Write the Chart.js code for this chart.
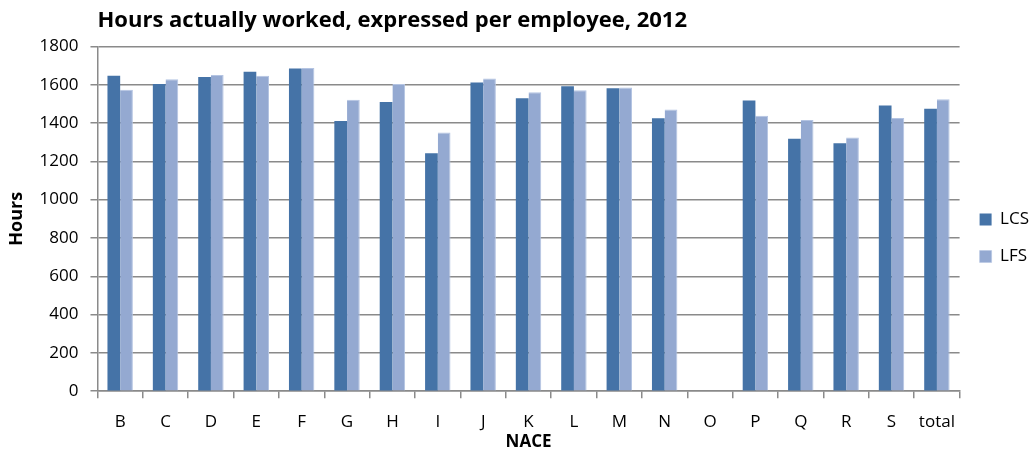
<!DOCTYPE html>
<html>
<head>
<meta charset="utf-8">
<script src="https://cdn.jsdelivr.net/npm/chart.js@4/dist/chart.umd.min.js"></script>
<style>
  html, body { margin: 0; padding: 0; background: #fff; }
  #wrap { width: 1031px; height: 452px; }
</style>
</head>
<body>
<div id="wrap"><canvas id="hoursChart"></canvas></div>
<script>
// NACE sections, hours per employee in 2012
const nace = ['B', 'C', 'D', 'E', 'F', 'G', 'H', 'I', 'J', 'K', 'L', 'M', 'N', 'O', 'P', 'Q', 'R', 'S', 'total'];
const lcs = [1647, 1604, 1640, 1668, 1685, 1411, 1510, 1242, 1612, 1529, 1592, 1581, 1425, null, 1517, 1318, 1294, 1491, 1475];
const lfs = [1574, 1628, 1651, 1647, 1687, 1522, 1604, 1350, 1632, 1560, 1571, 1585, 1471, null, 1438, 1416, 1324, 1426, 1524];
const yTicks = [0, 200, 400, 600, 800, 1000, 1200, 1400, 1600, 1800];

const axisGrey = '#8a8a8a';
const fontFamily = '"Open Sans", Lato, sans-serif';

const ctx = document.getElementById('hoursChart').getContext('2d');

const chart = new Chart(ctx, {
    type: 'bar',
    data: {
        labels: nace,
        datasets: [{
            label: 'LCS',
            data: lcs,
            backgroundColor: '#4573A7',
            borderWidth: 0
        }, {
            label: 'LFS',
            data: lfs,
            backgroundColor: '#94A9D1',
            borderColor: '#b4c4e2',
            borderWidth: { top: 1, left: 0, right: 1, bottom: 0 }
        }]
    },
    options: {
        responsive: true,
        maintainAspectRatio: false,
        animation: false,
        datasets: {
            bar: {
                categoryPercentage: 0.56,
                barPercentage: 1.0
            }
        },
        // extra top padding keeps the legend block a little below centre;
        // the title pulls itself back up with a negative top padding
        layout: {
            padding: { left: 0, right: -8, top: 24, bottom: 0 }
        },
        plugins: {
            title: {
                display: true,
                text: 'Hours actually worked, expressed per employee, 2012',
                align: 'start',
                fullSize: false,
                color: '#000',
                font: { family: fontFamily, size: 22, weight: 'bold' },
                padding: { top: -16, bottom: 12 }
            },
            legend: {
                position: 'right',
                labels: {
                    color: '#000',
                    font: { family: fontFamily, size: 17 },
                    boxWidth: 12,
                    boxHeight: 12,
                    padding: 20
                }
            },
            tooltip: { enabled: false }
        },
        scales: {
            x: {
                // let the plot run a bit lower; labels and title keep their places
                afterFit: scale => { scale.height -= 10; },
                grid: {
                    display: true,
                    drawOnChartArea: false,
                    drawTicks: true,
                    tickLength: 7,
                    color: axisGrey,
                    lineWidth: 1.5
                },
                border: { display: true, color: axisGrey, width: 1.5 },
                ticks: {
                    color: '#000',
                    font: { family: fontFamily, size: 17 },
                    padding: 14,
                    maxRotation: 0,
                    autoSkip: false
                },
                title: {
                    display: true,
                    text: 'NACE',
                    color: '#000',
                    font: { family: fontFamily, size: 17, weight: 'bold' },
                    padding: { top: -5, bottom: 0 }
                }
            },
            y: {
                min: 0,
                max: 1800,
                afterBuildTicks: axis => {
                    axis.ticks = yTicks.map(v => ({ value: v }));
                },
                grid: {
                    color: axisGrey,
                    lineWidth: 1.5,
                    drawTicks: true,
                    tickLength: 7
                },
                border: { display: true, color: axisGrey, width: 1.5 },
                ticks: {
                    color: '#000',
                    font: { family: fontFamily, size: 17 },
                    padding: 12,
                    callback: v => String(v)
                },
                title: {
                    display: true,
                    text: 'Hours',
                    color: '#000',
                    font: { family: fontFamily, size: 18, weight: 'bold' },
                    padding: { top: 6, bottom: 0 }
                }
            }
        }
    }
});
</script>
</body>
</html>
